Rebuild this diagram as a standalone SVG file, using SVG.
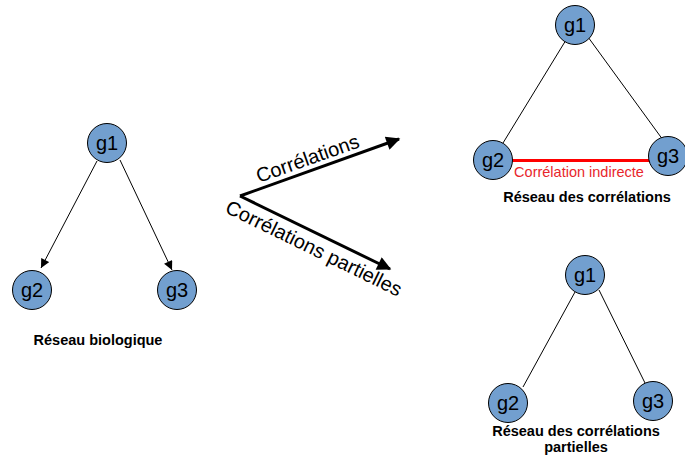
<svg xmlns="http://www.w3.org/2000/svg" width="685" height="458" viewBox="0 0 685 458">
<style>
.n circle{fill:#729fcf;stroke:#000;stroke-width:1}
.n text{font-family:"Liberation Sans",Arial,sans-serif;font-size:20px;fill:#000;text-anchor:middle}
.e{stroke:#000;stroke-width:1;fill:none}
.big{stroke:#000;stroke-width:3;fill:none}
.lbl{font-family:"Liberation Sans",Arial,sans-serif;font-size:14.5px;font-weight:bold;fill:#000;text-anchor:middle}
.arr{font-family:"Liberation Sans",Arial,sans-serif;font-size:20px;fill:#000}
</style>
<defs>
<marker id="ah" viewBox="0 0 10 10" refX="10" refY="5" markerWidth="11" markerHeight="9" markerUnits="userSpaceOnUse" orient="auto">
<path d="M0,0 L10,5 L0,10 Z" fill="#000"/>
</marker>
<marker id="ahb" viewBox="0 0 10 10" refX="9" refY="5" markerWidth="19" markerHeight="14" markerUnits="userSpaceOnUse" orient="auto">
<path d="M0,0 L10,5 L0,10 Z" fill="#000"/>
</marker>
</defs>
<g id="connectors">
<line class="e" x1="97" y1="161" x2="41" y2="268" marker-end="url(#ah)"/>
<line class="e" x1="120" y1="160" x2="172" y2="270" marker-end="url(#ah)"/>
<line class="big" x1="240" y1="196" x2="399" y2="139" marker-end="url(#ahb)"/>
<line class="big" x1="240" y1="196" x2="390" y2="269" marker-end="url(#ahb)"/>
<line class="e" x1="566" y1="40" x2="503" y2="143"/>
<line class="e" x1="588" y1="37" x2="663" y2="140"/>
<line x1="512" y1="160.5" x2="651" y2="160.5" stroke="#ff0000" stroke-width="3"/>
<line class="e" x1="575" y1="292" x2="523" y2="387"/>
<line class="e" x1="599" y1="290" x2="646" y2="385"/>
</g>
<text class="arr" transform="translate(259,183) rotate(-19.5)">Corrélations</text>
<text class="arr" transform="translate(224,212) rotate(26)">Corrélations partielles</text>
<g id="bio_g1" class="n"><circle cx="107" cy="143" r="19.5"/><text x="107" y="150">g1</text></g>
<g id="bio_g2" class="n"><circle cx="32" cy="290" r="19.5"/><text x="32" y="297">g2</text></g>
<g id="bio_g3" class="n"><circle cx="177" cy="290" r="19.5"/><text x="177" y="297">g3</text></g>
<text class="lbl" x="98" y="345">Réseau biologique</text>
<g id="cor_g1" class="n"><circle cx="575" cy="25" r="19.5"/><text x="575" y="32">g1</text></g>
<g id="cor_g2" class="n"><circle cx="493" cy="160" r="19.5"/><text x="493" y="167">g2</text></g>
<g id="cor_g3" class="n"><circle cx="668" cy="156" r="19.5"/><text x="668" y="163">g3</text></g>
<text x="579" y="177" font-family="Liberation Sans,Arial,sans-serif" font-size="14.5" fill="#e8262c" text-anchor="middle">Corrélation indirecte</text>
<text class="lbl" x="587" y="202">Réseau des corrélations</text>
<g id="pc_g1" class="n"><circle cx="585" cy="275" r="19.5"/><text x="585" y="282">g1</text></g>
<g id="pc_g2" class="n"><circle cx="508" cy="403" r="19.5"/><text x="508" y="410">g2</text></g>
<g id="pc_g3" class="n"><circle cx="653" cy="401" r="19.5"/><text x="653" y="408">g3</text></g>
<text class="lbl" x="576" y="436">Réseau des corrélations</text>
<text class="lbl" x="576" y="452">partielles</text>
</svg>
